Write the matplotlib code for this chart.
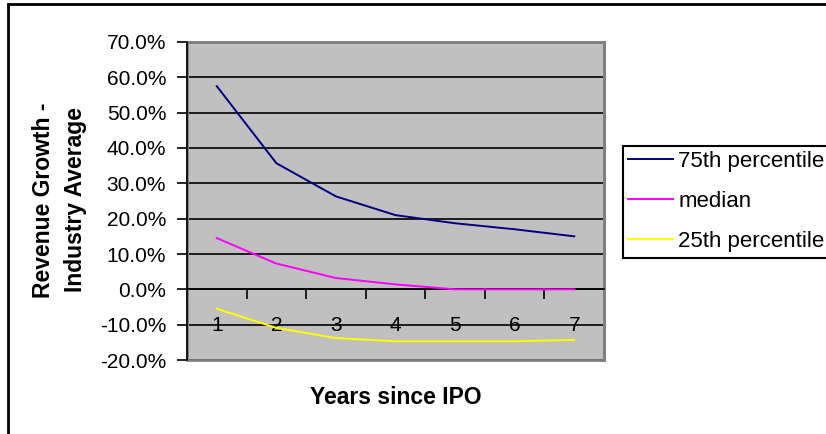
import matplotlib
matplotlib.use("Agg")
import matplotlib.pyplot as plt
import matplotlib.ticker as mticker
from matplotlib.patches import Rectangle
import numpy as np

plt.rcParams.update({
    "font.family": ["Liberation Sans", "DejaVu Sans"],
    "font.size": 15,
    "axes.linewidth": 1.2,
})

# Revenue growth relative to industry average, in percent
years = [1, 2, 3, 4, 5, 6, 7]
p75 = [57.5, 35.7, 26.3, 21.0, 18.7, 17.0, 15.0]
median = [14.5, 7.3, 3.2, 1.4, 0.0, 0.0, 0.0]
p25 = [-5.5, -10.9, -13.8, -14.7, -14.7, -14.7, -14.3]

W, H = 826, 434
fig = plt.figure(figsize=(W / 100, H / 100), dpi=100)

# chart-area border (open on the right and bottom)
fig.add_artist(Rectangle((8 / W, -0.05), 1.2, 1 - 4 / H + 0.05,
                         transform=fig.transFigure, fill=False,
                         ec="black", lw=2))

ax = fig.add_axes([187 / W, 1 - 360 / H, (604 - 187) / W, (360 - 42) / H])
ax.set_facecolor("#C0C0C0")

x = np.arange(len(years)) + 0.5
ax.plot(x, p75, color="#000080", lw=1.4, label="75th percentile", zorder=3)
ax.plot(x, median, color="#FF00FF", lw=1.4, label="median", zorder=3)
ax.plot(x, p25, color="#FFFF00", lw=1.4, label="25th percentile", zorder=3)

ax.set_xlim(0, len(years))
ax.set_ylim(-20, 70)
ax.set_yticks(np.arange(-20, 71, 10))
ax.yaxis.set_major_formatter(mticker.FuncFormatter(lambda v, _: f"{v:.1f}%"))
ax.grid(axis="y", color="black", lw=1.2)
ax.set_axisbelow(True)

# category axis crossing at zero, ticks between categories
ax.spines["bottom"].set_position(("data", 0))
ax.spines["bottom"].set_color("black")
ax.set_xticks(np.arange(len(years) + 1))
ax.set_xticklabels([])
ax.set_xticks(x, minor=True)
ax.set_xticklabels([str(y) for y in years], minor=True)
ax.tick_params(axis="x", which="major", direction="out", length=7, width=1.2)
ax.tick_params(axis="x", which="minor", length=0, pad=19, labelsize=15)
ax.tick_params(axis="y", direction="out", length=7, width=1.2, pad=8,
               labelsize=15)

# plot-area frame
for side in ("top", "right"):
    ax.spines[side].set_color("#808080")
    ax.spines[side].set_linewidth(2)
ax.add_patch(Rectangle((0, 0), 1, 1, transform=ax.transAxes, fill=False,
                       ec="#808080", lw=2, clip_on=False, zorder=1))
ax.spines["left"].set_zorder(4)

fig.text(60 / W, 1 - 200 / H, "Revenue Growth -\nIndustry Average",
         rotation=90, ha="center", va="center", ma="center",
         fontsize=16.5, fontweight="bold", linespacing=1.5)
fig.text(396 / W, 1 - 398 / H, "Years since IPO", ha="center", va="center",
         fontsize=16.5, fontweight="bold")

leg = fig.legend(loc="upper left", mode="expand",
                 bbox_to_anchor=(622.7 / W, 0, (860 - 622.7) / W, 1 - 145.7 / H),
                 borderaxespad=0, frameon=True, fancybox=False,
                 edgecolor="black", framealpha=1, fontsize=16,
                 handlelength=2.0, handletextpad=0.25, borderpad=0.25,
                 labelspacing=0.85)
leg.get_frame().set_linewidth(1.5)

fig.savefig("out.png", dpi=100)
